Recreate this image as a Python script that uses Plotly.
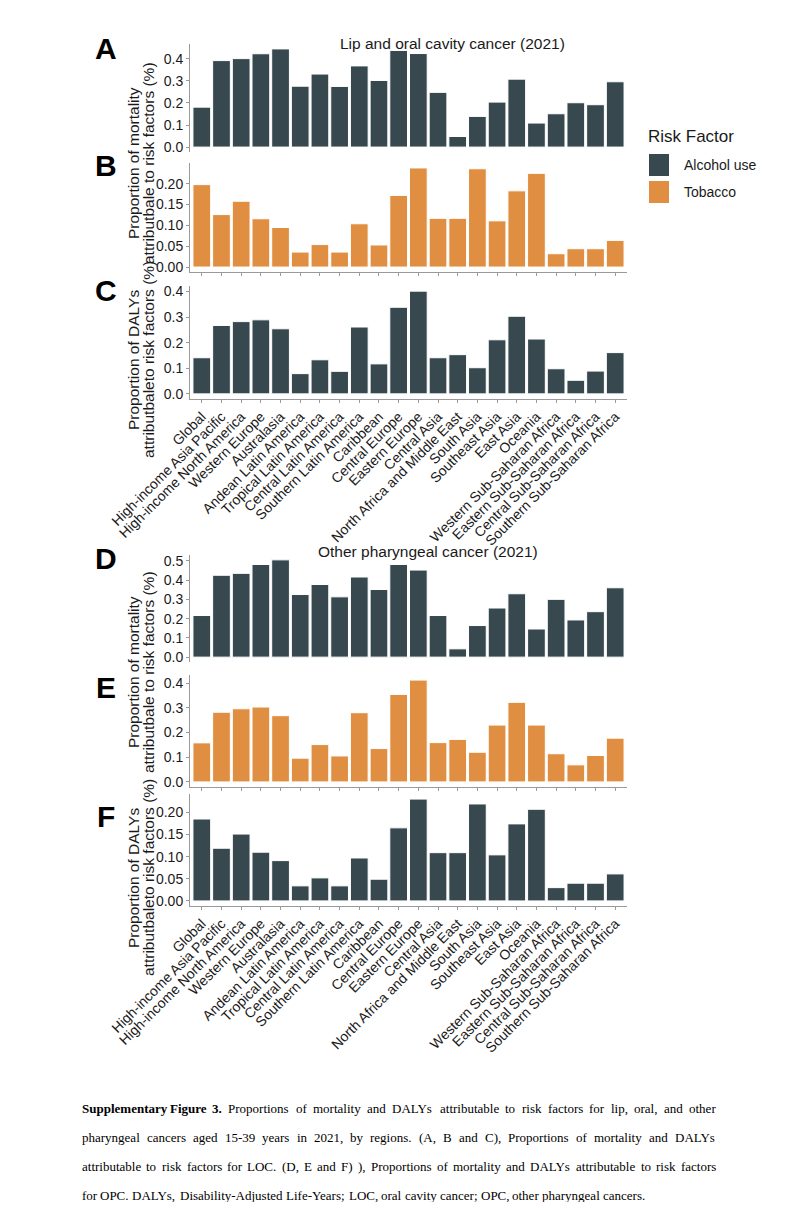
import plotly.graph_objects as go

# page body has an 8px margin, so the figure is drawn 8px in from the window edge
W, H = 778, 1194
OFF = 8

regions = [
    "Global", "High-income Asia Pacific", "High-income North America", "Western Europe",
    "Australasia", "Andean Latin America", "Tropical Latin America", "Central Latin America",
    "Southern Latin America", "Caribbean", "Central Europe", "Eastern Europe", "Central Asia",
    "North Africa and Middle East", "South Asia", "Southeast Asia", "East Asia", "Oceania",
    "Western Sub-Saharan Africa", "Eastern Sub-Saharan Africa", "Central Sub-Saharan Africa",
    "Southern Sub-Saharan Africa",
]

# Lip and oral cavity cancer
loc_mort_alcohol = [0.181, 0.392, 0.401, 0.423, 0.445, 0.276, 0.331, 0.275, 0.368, 0.302, 0.438,
                    0.424, 0.248, 0.048, 0.139, 0.204, 0.308, 0.109, 0.151, 0.201, 0.192, 0.296]
loc_mort_tobacco = [0.198, 0.126, 0.158, 0.116, 0.095, 0.036, 0.054, 0.036, 0.104, 0.053, 0.172,
                    0.238, 0.117, 0.117, 0.236, 0.111, 0.183, 0.225, 0.032, 0.044, 0.044, 0.064]
loc_daly = [0.141, 0.267, 0.282, 0.289, 0.254, 0.079, 0.133, 0.088, 0.261, 0.117, 0.338,
            0.401, 0.141, 0.153, 0.102, 0.211, 0.303, 0.214, 0.098, 0.053, 0.089, 0.161]

# Other pharyngeal cancer
opc_mort_alcohol = [0.216, 0.425, 0.435, 0.481, 0.505, 0.325, 0.377, 0.313, 0.416, 0.351, 0.481,
                    0.452, 0.216, 0.043, 0.164, 0.255, 0.329, 0.146, 0.300, 0.193, 0.236, 0.360]
opc_mort_tobacco = [0.158, 0.282, 0.296, 0.303, 0.268, 0.096, 0.151, 0.105, 0.280, 0.135, 0.354,
                    0.412, 0.159, 0.172, 0.120, 0.230, 0.322, 0.230, 0.114, 0.069, 0.107, 0.177]
opc_daly = [0.185, 0.119, 0.151, 0.110, 0.091, 0.034, 0.052, 0.034, 0.097, 0.049, 0.165,
            0.230, 0.109, 0.109, 0.219, 0.104, 0.174, 0.207, 0.030, 0.040, 0.040, 0.061]

caption_lines = [
    "Supplementary Figure 3. Proportions of mortality and DALYs attributable to risk factors for lip, oral, and other",
    "pharyngeal cancers aged 15-39 years in 2021, by regions. (A, B and C), Proportions of mortality and DALYs",
    "attributable to risk factors for LOC. (D, E and F) ), Proportions of mortality and DALYs attributable to risk factors",
    "for OPC. DALYs, Disability-Adjusted Life-Years; LOC, oral cavity cancer; OPC, other pharyngeal cancers.",
]

ALCOHOL = "#37484F"
TOBACCO = "#E08F42"
AXIS_GREY = "#9a9a9a"
TXT = "#1a1a1a"
FONT = "Liberation Sans, Arial, sans-serif"
SERIF = "Liberation Serif, Times New Roman, serif"


def px_x(x):
    return (x - OFF) / W


def px_y(y):
    return 1 - (y - OFF) / H


def label(text, x, y, size, family=FONT, color=TXT, xanchor="center", angle=0):
    return dict(text=text, x=px_x(x), y=px_y(y), xref="paper", yref="paper",
                xanchor=xanchor, yanchor="middle", textangle=angle, showarrow=False,
                font=dict(family=family, size=size, color=color))


# (letter, letter y, values, colour, top px, bottom px, x line, x labels, dtick, tick format)
panels = [
    ("A", 48, loc_mort_alcohol, ALCOHOL, 44, 152, False, False, 0.1, ".1f"),
    ("B", 166, loc_mort_tobacco, TOBACCO, 163, 272, True, False, 0.05, ".2f"),
    ("C", 290, loc_daly, ALCOHOL, 286, 399, True, True, 0.1, ".1f"),
    ("D", 558, opc_mort_alcohol, ALCOHOL, 555, 662, False, False, 0.1, ".1f"),
    ("E", 687, opc_mort_tobacco, TOBACCO, 675, 787, True, False, 0.1, ".1f"),
    ("F", 816, opc_daly, ALCOHOL, 794, 906, True, True, 0.05, ".2f"),
]

fig = go.Figure()
annotations = []
shapes = []

for i, (letter, ly, vals, color, top, bot, xline, xlabels, dt, fmt) in enumerate(panels, start=1):
    sfx = "" if i == 1 else str(i)
    fig.add_trace(go.Bar(
        x=regions, y=vals,
        marker=dict(color=color, line=dict(color="white", width=1)),
        xaxis="x" + sfx, yaxis="y" + sfx, showlegend=False,
    ))
    m = max(vals)
    fig.layout["xaxis" + sfx] = dict(
        domain=[px_x(190), px_x(627)], anchor="y" + sfx, automargin=False,
        type="category", categoryorder="array", categoryarray=regions,
        range=[-0.6, len(regions) - 0.4],
        showline=xline, linecolor=AXIS_GREY, linewidth=1,
        ticks="outside" if xline else "", ticklen=3, tickcolor=AXIS_GREY,
        showticklabels=xlabels, tickangle=-45,
        tickfont=dict(family=FONT, size=14, color=TXT),
        showgrid=False, zeroline=False, fixedrange=True,
    )
    fig.layout["yaxis" + sfx] = dict(
        domain=[px_y(bot), px_y(top)], anchor="x" + sfx, automargin=False,
        range=[-0.05 * m, 1.05 * m], dtick=dt, tick0=0, tickformat=fmt,
        showline=True, linecolor=AXIS_GREY, linewidth=1,
        ticks="outside", ticklen=3, tickcolor=AXIS_GREY,
        tickfont=dict(family=FONT, size=14, color=TXT),
        showgrid=False, zeroline=False, fixedrange=True,
    )
    annotations.append(label(f"<b>{letter}</b>", 106, ly, 30, color="black"))

# cancer titles
annotations.append(label("Lip and oral cavity cancer (2021)", 452, 43, 15.5))
annotations.append(label("Other pharyngeal cancer (2021)", 428, 551, 15.5))

# y axis titles (two lines each)
ytitles = [
    ("Proportion of mortality", "attributbale to risk factors (%)", 163),
    ("Proportion of DALYs", "attributbaleto risk factors (%)", 360),
    ("Proportion of mortality", "attributbale to risk factors (%)", 672),
    ("Proportion of DALYs", "attributbaleto risk factors (%)", 878),
]
for l1, l2, yc in ytitles:
    annotations.append(label(l1, 133, yc, 15.5, angle=-90))
    annotations.append(label(l2, 148, yc, 15.5, angle=-90))

# legend
annotations.append(label("Risk Factor", 646, 137, 17, xanchor="left"))
for name, color, yc in (("Alcohol use", ALCOHOL, 165), ("Tobacco", TOBACCO, 192)):
    shapes.append(dict(type="rect", xref="paper", yref="paper",
                       x0=px_x(649), x1=px_x(669), y0=px_y(yc + 11), y1=px_y(yc - 11),
                       fillcolor=color, line=dict(width=0)))
    annotations.append(label(name, 682, yc, 14, xanchor="left"))

# caption, justified word by word (Times metrics, 1/1000 em)
TIMES = dict(zip(
    " abcdefghijklmnopqrstuvwxyzABCDEFGHIJKLMNOPQRSTUVWXYZ0123456789.,;:()-",
    [250, 444, 500, 444, 500, 444, 333, 500, 500, 278, 278, 500, 278, 778, 500, 500, 500, 500,
     333, 389, 278, 500, 500, 722, 500, 500, 444,
     722, 667, 667, 722, 611, 556, 722, 722, 333, 389, 722, 611, 889, 722, 722, 556, 722, 667,
     556, 611, 722, 722, 944, 722, 722, 611,
     500, 500, 500, 500, 500, 500, 500, 500, 500, 500, 250, 250, 278, 278, 333, 333, 333],
))
CAP_SIZE = 13
CAP_LEFT, CAP_RIGHT = 80, 714


def word_width(w, bold=False):
    return sum(TIMES.get(c, 500) for c in w) / 1000 * CAP_SIZE * (1.04 if bold else 1.0)


for k, line in enumerate(caption_lines):
    yc = 1108 + 29 * k
    words = line.split(" ")
    bold_n = 3 if k == 0 else 0
    widths = [word_width(w, j < bold_n) for j, w in enumerate(words)]
    if k < len(caption_lines) - 1:
        gap = (CAP_RIGHT - CAP_LEFT - sum(widths)) / (len(words) - 1)
    else:
        gap = TIMES[" "] / 1000 * CAP_SIZE
    xpos = CAP_LEFT
    for j, (w, ww) in enumerate(zip(words, widths)):
        annotations.append(label(f"<b>{w}</b>" if j < bold_n else w, xpos, yc, CAP_SIZE,
                                 family=SERIF, color="black", xanchor="left"))
        xpos += ww + gap

fig.update_layout(
    width=W, height=H,
    margin=dict(l=0, r=0, t=0, b=0),
    paper_bgcolor="white", plot_bgcolor="white",
    bargap=0.1,
    annotations=annotations, shapes=shapes,
    showlegend=False,
)

fig.write_html("out.html")
